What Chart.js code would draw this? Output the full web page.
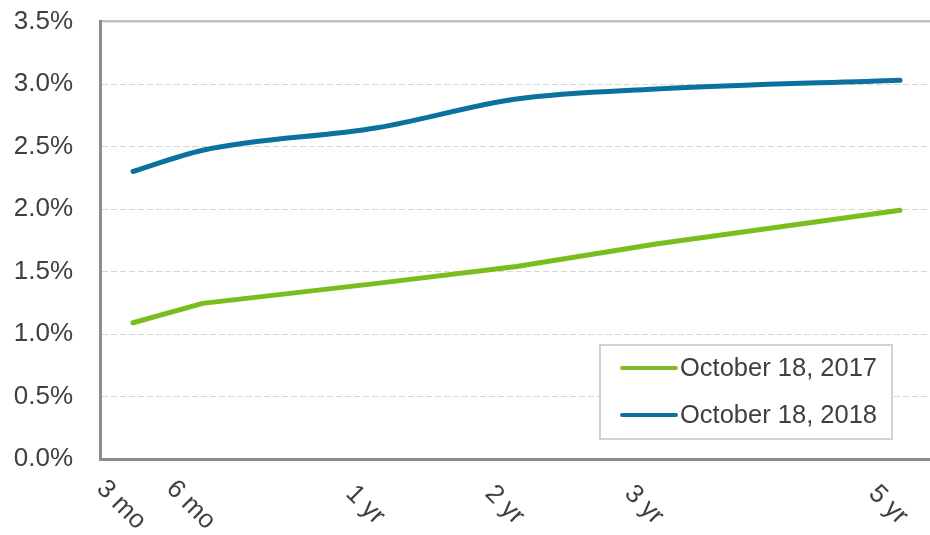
<!DOCTYPE html>
<html>
<head>
<meta charset="utf-8">
<script src="https://cdn.jsdelivr.net/npm/chart.js@4/dist/chart.umd.min.js"></script>
<style>
  body { margin: 0; background: #fff; }
  #wrap { width: 930px; height: 535px; position: relative; }
</style>
</head>
<body>
<div id="wrap"><canvas id="yieldChart"></canvas></div>
<script>
// Dữ liệu biểu đồ
const tenorLabels = ['3 mo', '6 mo', '1 yr', '2 yr', '3 yr', '5 yr'];
const tenorPos = [0, 2, 7, 11, 15, 22];
const yields2017 = [1.09, 1.245, 1.405, 1.54, 1.72, 1.99];
const yields2018 = [2.30, 2.47, 2.65, 2.88, 2.96, 3.03];
const seriesNames = ['October 18, 2017', 'October 18, 2018'];

document.addEventListener('DOMContentLoaded', function() {
  const FONT = '"Liberation Sans", Arial, sans-serif';
  const TEXT = '#404040';

  // Ghép vị trí x với giá trị
  function toPoints(values) {
    return values.map((v, i) => ({ x: tenorPos[i], y: v }));
  }

  // Nhãn trục x xoay 45 độ theo chiều kim đồng hồ
  const rotatedLabels = {
    id: 'rotatedLabels',
    afterDraw(chart) {
      const ctx = chart.ctx;
      const xScale = chart.scales.x;
      ctx.save();
      ctx.font = '26px ' + FONT;
      ctx.fillStyle = TEXT;
      ctx.textAlign = 'center';
      ctx.textBaseline = 'middle';
      tenorLabels.forEach((label, i) => {
        const x = xScale.getPixelForValue(tenorPos[i]) - 12;
        ctx.save();
        ctx.translate(x, 505);
        ctx.rotate(Math.PI / 4);
        ctx.fillText(label, 0, 0);
        ctx.restore();
      });
      ctx.restore();
    }
  };

  // Chú thích nằm trong vùng biểu đồ
  const boxLegend = {
    id: 'boxLegend',
    afterDraw(chart) {
      const ctx = chart.ctx;
      ctx.save();
      ctx.fillStyle = '#fff';
      ctx.fillRect(600, 345, 292, 94);
      ctx.strokeStyle = '#c4c4c4';
      ctx.lineWidth = 1.5;
      ctx.strokeRect(600, 345, 292, 94);
      ctx.font = '25.5px ' + FONT;
      ctx.textBaseline = 'middle';
      chart.data.datasets.forEach((ds, i) => {
        const y = 368 + i * 47;
        ctx.strokeStyle = ds.borderColor;
        ctx.lineWidth = 4;
        ctx.lineCap = 'round';
        ctx.beginPath();
        ctx.moveTo(622, y);
        ctx.lineTo(676, y);
        ctx.stroke();
        ctx.fillStyle = TEXT;
        ctx.fillText(ds.label, 680, y + 1);
      });
      ctx.restore();
    }
  };

  const ctx = document.getElementById('yieldChart').getContext('2d');
  new Chart(ctx, {
    type: 'line',
    data: {
      datasets: [{
        label: seriesNames[0],
        data: toPoints(yields2017),
        borderColor: '#7abd1f',
        borderWidth: 5,
        tension: 0,
        pointRadius: 0,
        borderCapStyle: 'round',
        borderJoinStyle: 'round'
      }, {
        label: seriesNames[1],
        data: toPoints(yields2018),
        borderColor: '#0b72a0',
        borderWidth: 5,
        cubicInterpolationMode: 'monotone',
        pointRadius: 0,
        borderCapStyle: 'round',
        borderJoinStyle: 'round'
      }]
    },
    options: {
      responsive: true,
      maintainAspectRatio: false,
      animation: false,
      layout: { padding: { top: 21.5, left: 0, right: 0, bottom: 0 } },
      plugins: {
        legend: { display: false },
        tooltip: { enabled: false }
      },
      scales: {
        x: {
          type: 'linear',
          min: -0.9466,
          max: 22.86,
          grid: { display: false },
          border: { color: '#8c8c8c', width: 3 },
          ticks: { display: false },
          afterFit: function(scale) { scale.height = 76; }
        },
        y: {
          min: 0,
          max: 3.5,
          grid: {
            drawTicks: true,
            tickLength: 27,
            tickColor: 'rgba(0,0,0,0)',
            color: function(c) {
              return c.tick && c.tick.value === 3.5 ? '#c0c0c0' : '#d6d6d6';
            },
            lineWidth: function(c) {
              return c.tick && c.tick.value === 3.5 ? 2.5 : 1;
            }
          },
          border: {
            color: '#8c8c8c',
            width: 3,
            dash: function(c) {
              return c.tick && c.tick.value === 3.5 ? [] : [6, 3];
            }
          },
          ticks: {
            stepSize: 0.5,
            padding: 0,
            color: TEXT,
            font: { family: FONT, size: 26 },
            callback: function(value) { return value.toFixed(1) + '%'; }
          },
          afterFit: function(scale) { scale.width = 100; }
        }
      }
    },
    plugins: [rotatedLabels, boxLegend]
  });
});
</script>
</body>
</html>
